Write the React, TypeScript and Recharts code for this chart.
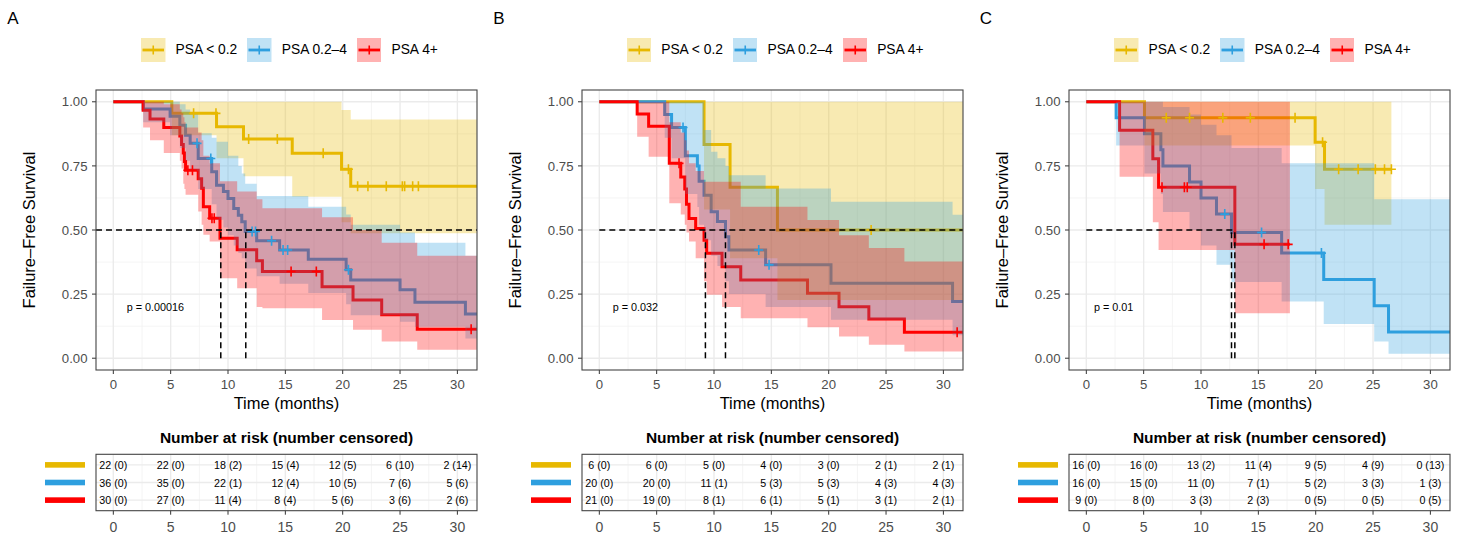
import React from 'react';
import { ComposedChart, Line, Area, Scatter, XAxis, YAxis, ReferenceLine, ReferenceDot } from 'recharts';

const COLORS = ['#E7B800', '#2E9FDF', '#FF0000'];
const STRATA = ['PSA < 0.2', 'PSA 0.2–4', 'PSA 4+'];
const X_TICKS = [0, 5, 10, 15, 20, 25, 30];
const X_MINOR = [2.5, 7.5, 12.5, 17.5, 22.5, 27.5];
const Y_TICKS = [0, 0.25, 0.5, 0.75, 1];
const Y_MINOR = [0.125, 0.375, 0.625, 0.875];
const RISK_TIMES = [0, 5, 10, 15, 20, 25, 30];
const RISK_ROWS = [1, 2, 3];
const X_DOMAIN: [number, number] = [-1.51, 31.71];
const Y_DOMAIN: [number, number] = [-0.046, 1.046];

// ---------- Panel A ----------
const A_LOW_TIME = [0, 5.1, 9.0, 11.35, 15.6, 19.9, 20.7, 31.7];
const A_LOW_SURV = [1, 0.955, 0.903, 0.855, 0.799, 0.737, 0.671, 0.671];
const A_LOW_LOWER = [1, 0.87, 0.78, 0.71, 0.63, 0.53, 0.487, 0.487];
const A_LOW_UPPER = [1, 1, 1, 1, 1, 0.968, 0.931, 0.931];
const A_LOW_CENSOR = [7.0, 8.95, 11.8, 14.3, 18.3, 20.5, 21.3, 22.2, 23.8, 25.2, 25.4, 26.1, 26.6];

const A_MID_TIME = [0, 2.6, 4.95, 5.8, 6.3, 6.7, 7.4, 8.58, 9.0, 9.6, 10.0, 10.5, 10.9, 11.2, 11.5, 12.5, 14.5, 17.0, 20.3, 20.7, 25.0, 26.3, 30.7, 31.7];
const A_MID_SURV = [1, 0.972, 0.944, 0.909, 0.87, 0.838, 0.779, 0.727, 0.675, 0.65, 0.623, 0.584, 0.558, 0.532, 0.494, 0.458, 0.422, 0.386, 0.345, 0.305, 0.267, 0.218, 0.172, 0.172];
const A_MID_LOWER = [1, 0.92, 0.87, 0.82, 0.77, 0.73, 0.66, 0.6, 0.54, 0.51, 0.48, 0.44, 0.41, 0.39, 0.35, 0.32, 0.29, 0.254, 0.21, 0.168, 0.142, 0.123, 0.077, 0.077];
const A_MID_UPPER = [1, 1, 1, 0.99, 0.97, 0.95, 0.877, 0.86, 0.844, 0.844, 0.79, 0.79, 0.75, 0.72, 0.68, 0.633, 0.633, 0.591, 0.56, 0.52, 0.49, 0.45, 0.4, 0.4];
const A_MID_CENSOR = [7.3, 8.5, 12.1, 12.4, 13.8, 14.8, 15.2, 20.5];

const A_HIGH_TIME = [0, 2.6, 3.2, 4.4, 5.8, 5.95, 6.1, 6.2, 6.3, 7.4, 7.7, 7.85, 8.4, 9.3, 10.8, 12.5, 13.0, 18.2, 20.9, 23.4, 26.5, 31.7];
const A_HIGH_SURV = [1, 0.967, 0.933, 0.9, 0.867, 0.833, 0.8, 0.767, 0.733, 0.7, 0.663, 0.591, 0.546, 0.468, 0.423, 0.38, 0.338, 0.279, 0.227, 0.169, 0.113, 0.113];
const A_HIGH_LOWER = [1, 0.9, 0.85, 0.8, 0.77, 0.74, 0.68, 0.66, 0.637, 0.572, 0.52, 0.481, 0.455, 0.312, 0.273, 0.2, 0.195, 0.149, 0.111, 0.065, 0.033, 0.033];
const A_HIGH_UPPER = [1, 1, 1, 0.99, 0.97, 0.955, 0.94, 0.92, 0.9, 0.88, 0.85, 0.79, 0.76, 0.69, 0.65, 0.62, 0.585, 0.55, 0.5, 0.45, 0.4, 0.4];
const A_HIGH_CENSOR = [6.5, 6.9, 8.6, 8.8, 15.5, 17.7, 31.2];

const A_RISK_LOW = ['22 (0)', '22 (0)', '18 (2)', '15 (4)', '12 (5)', '6 (10)', '2 (14)'];
const A_RISK_MID = ['36 (0)', '35 (0)', '22 (1)', '12 (4)', '10 (5)', '7 (6)', '5 (6)'];
const A_RISK_HIGH = ['30 (0)', '27 (0)', '11 (4)', '8 (4)', '5 (6)', '3 (6)', '2 (6)'];
const A_MEDIANS = [9.37, 11.55];
const A_MEDIAN_H = [-1.51, 31.71];

// ---------- Panel B ----------
const B_LOW_TIME = [0, 9.13, 11.4, 15.53, 31.7];
const B_LOW_SURV = [1, 0.833, 0.667, 0.5, 0.5];
const B_LOW_LOWER = [1, 0.58, 0.39, 0.227, 0.227];
const B_LOW_UPPER = [1, 1, 1, 1, 1];
const B_LOW_CENSOR = [23.7];

const B_MID_TIME = [0, 5.7, 6.3, 7.5, 8.55, 8.7, 9.13, 9.75, 10.3, 11.0, 11.3, 14.5, 20.2, 30.8, 31.7];
const B_MID_SURV = [1, 0.95, 0.9, 0.79, 0.75, 0.69, 0.636, 0.571, 0.533, 0.474, 0.422, 0.364, 0.292, 0.221, 0.221];
const B_MID_LOWER = [1, 0.86, 0.78, 0.64, 0.59, 0.52, 0.46, 0.4, 0.36, 0.3, 0.25, 0.2, 0.15, 0.09, 0.09];
const B_MID_UPPER = [1, 1, 1, 1, 1, 1, 0.89, 0.805, 0.78, 0.75, 0.714, 0.662, 0.61, 0.559, 0.559];
const B_MID_CENSOR = [7.3, 13.9, 14.8];

const B_HIGH_TIME = [0, 3.3, 4.3, 6.1, 7.1, 7.45, 7.6, 7.82, 8.4, 9.13, 9.36, 10.7, 12.33, 18.15, 20.9, 23.5, 26.6, 31.7];
const B_HIGH_SURV = [1, 0.952, 0.905, 0.76, 0.707, 0.66, 0.6, 0.545, 0.506, 0.46, 0.409, 0.357, 0.305, 0.253, 0.201, 0.153, 0.101, 0.101];
const B_HIGH_LOWER = [1, 0.864, 0.786, 0.604, 0.56, 0.52, 0.49, 0.455, 0.39, 0.3, 0.247, 0.2, 0.156, 0.121, 0.085, 0.052, 0.026, 0.026];
const B_HIGH_UPPER = [1, 1, 1, 0.92, 0.88, 0.85, 0.81, 0.76, 0.73, 0.688, 0.688, 0.688, 0.591, 0.539, 0.48, 0.43, 0.377, 0.377];
const B_HIGH_CENSOR = [6.95, 31.2];

const B_RISK_LOW = ['6 (0)', '6 (0)', '5 (0)', '4 (0)', '3 (0)', '2 (1)', '2 (1)'];
const B_RISK_MID = ['20 (0)', '20 (0)', '11 (1)', '5 (3)', '5 (3)', '4 (3)', '4 (3)'];
const B_RISK_HIGH = ['21 (0)', '19 (0)', '8 (1)', '6 (1)', '5 (1)', '3 (1)', '2 (1)'];
const B_MEDIANS = [9.25, 11.0];
const B_MEDIAN_H = [0, 31.71];

// ---------- Panel C ----------
const C_LOW_TIME = [0, 5.07, 19.95, 20.77, 26.6];
const C_LOW_SURV = [1, 0.9375, 0.842, 0.737, 0.737];
const C_LOW_LOWER = [1, 0.83, 0.66, 0.52, 0.52];
const C_LOW_UPPER = [1, 1, 1, 1, 1];
const C_LOW_CENSOR = [6.97, 9.0, 11.9, 14.3, 18.2, 20.6, 22.0, 23.7, 25.2, 26.0, 26.6];

const C_MID_TIME = [0, 2.6, 5.07, 6.5, 6.68, 9.0, 10.0, 11.35, 12.66, 17.03, 20.7, 25.1, 26.35, 31.75];
const C_MID_SURV = [1, 0.9375, 0.875, 0.8125, 0.75, 0.6875, 0.625, 0.562, 0.49, 0.41, 0.307, 0.205, 0.102, 0.102];
const C_MID_LOWER = [1, 0.83, 0.72, 0.64, 0.57, 0.5, 0.44, 0.364, 0.297, 0.221, 0.133, 0.065, 0.017, 0.017];
const C_MID_UPPER = [1, 1, 1, 1, 0.98, 0.95, 0.91, 0.87, 0.82, 0.76, 0.76, 0.62, 0.62, 0.62];
const C_MID_CENSOR = [12.07, 15.28, 20.5];

const C_HIGH_TIME = [0, 2.9, 5.8, 6.3, 12.95, 17.75];
const C_HIGH_SURV = [1, 0.889, 0.778, 0.667, 0.444, 0.444];
const C_HIGH_LOWER = [1, 0.708, 0.53, 0.422, 0.175, 0.175];
const C_HIGH_UPPER = [1, 1, 1, 1, 1, 1];
const C_HIGH_CENSOR = [6.6, 8.55, 8.8, 15.5, 17.6];

const C_RISK_LOW = ['16 (0)', '16 (0)', '13 (2)', '11 (4)', '9 (5)', '4 (9)', '0 (13)'];
const C_RISK_MID = ['16 (0)', '15 (0)', '11 (0)', '7 (1)', '5 (2)', '3 (3)', '1 (3)'];
const C_RISK_HIGH = ['9 (0)', '8 (0)', '3 (3)', '2 (3)', '0 (5)', '0 (5)', '0 (5)'];
const C_MEDIANS = [12.66, 12.95];
const C_MEDIAN_H = [0, 12.95];

type Series = { time: number[]; surv: number[]; lower: number[]; upper: number[]; censor: number[] };

const mk = (time: number[], surv: number[], lower: number[], upper: number[], censor: number[]): Series => ({ time, surv, lower, upper, censor });

const toSteps = (s: Series) => s.time.map((t, i) => ({ t, s: s.surv[i], band: [s.lower[i], s.upper[i]] }));
const survAt = (s: Series, t: number) => {
  let v = s.surv[0];
  for (let i = 0; i < s.time.length; i++) if (s.time[i] <= t) v = s.surv[i];
  return v;
};
const censorPts = (s: Series) => s.censor.map((t) => ({ t, s: survAt(s, t) }));

const makeCross = (color: string) => (props: any) => {
  const { cx, cy } = props;
  if (cx == null || cy == null) return <g />;
  return (
    <path d={`M${cx - 4.5},${cy}H${cx + 4.5}M${cx},${cy - 5}V${cy + 5}`} stroke={color} strokeWidth={1.6} fill="none" />
  );
};

const riskText = (props: any) => {
  const { cx, cy, payload } = props;
  if (cx == null || cy == null) return <g />;
  return (
    <text x={cx} y={cy} textAnchor="middle" dominantBaseline="central" fontSize={10.7} fill="#000">
      {payload.label}
    </text>
  );
};

const riskTick = (props: any) => {
  const { y, payload } = props;
  return <rect x={45} y={y - 2.8} width={40} height={5.6} fill={COLORS[3 - payload.value]} />;
};

const FONT = "'Liberation Sans', Arial, Helvetica, sans-serif";

type PanelProps = {
  left: number;
  letter: string;
  series: Series[];
  medians: number[];
  medianH: number[];
  pText: string;
  pX: number;
  risk: string[][];
};

function Panel({ left, letter, series, medians, medianH, pText, pX, risk }: PanelProps) {
  const riskData = risk.map((row, i) => row.map((label, j) => ({ t: RISK_TIMES[j], row: 3 - i, label })));
  return (
    <div style={{ position: 'absolute', left, top: 0, width: 486, height: 535 }}>
      <div style={{ position: 'absolute', left: 0, top: 0 }}>
        <ComposedChart width={486} height={420} margin={{ top: 90, right: 9, bottom: 0, left: 0 }}>
          <XAxis
            type="number"
            dataKey="t"
            domain={X_DOMAIN}
            allowDataOverflow
            ticks={X_TICKS}
            interval={0}
            height={50}
            axisLine={false}
            tickSize={4}
            tickMargin={6}
            tickLine={{ stroke: '#333', strokeWidth: 1 }}
            tick={{ fontSize: 13.2, fill: '#4D4D4D' }}
          />
          <YAxis
            type="number"
            dataKey="s"
            domain={Y_DOMAIN}
            allowDataOverflow
            ticks={Y_TICKS}
            interval={0}
            width={96}
            axisLine={false}
            tickSize={4}
            tickMargin={4.5}
            tickLine={{ stroke: '#333', strokeWidth: 1 }}
            tick={{ fontSize: 13.2, fill: '#4D4D4D' }}
            tickFormatter={(v: number) => v.toFixed(2)}
          />
          {X_MINOR.map((v) => (
            <ReferenceLine key={'xm' + v} x={v} stroke="#F1F1F1" strokeWidth={0.8} ifOverflow="hidden" zIndex={-100} />
          ))}
          {Y_MINOR.map((v) => (
            <ReferenceLine key={'ym' + v} y={v} stroke="#F1F1F1" strokeWidth={0.8} ifOverflow="hidden" zIndex={-100} />
          ))}
          {X_TICKS.map((v) => (
            <ReferenceLine key={'xM' + v} x={v} stroke="#EBEBEB" strokeWidth={1.4} ifOverflow="hidden" zIndex={-100} />
          ))}
          {Y_TICKS.map((v) => (
            <ReferenceLine key={'yM' + v} y={v} stroke="#EBEBEB" strokeWidth={1.4} ifOverflow="hidden" zIndex={-100} />
          ))}
          {series.map((s, i) => (
            <Line
              key={'l' + i}
              data={toSteps(s)}
              dataKey="s"
              type="stepAfter"
              stroke={COLORS[i]}
              strokeWidth={3}
              dot={false}
              activeDot={false}
              isAnimationActive={false}
              zIndex={100}
            />
          ))}
          {series.map((s, i) => (
            <Area
              key={'a' + i}
              data={toSteps(s)}
              dataKey="band"
              type="stepAfter"
              stroke="none"
              fill={COLORS[i]}
              fillOpacity={0.3}
              activeDot={false}
              isAnimationActive={false}
              zIndex={200}
            />
          ))}
          {series.map((s, i) => (
            <Scatter key={'c' + i} data={censorPts(s)} shape={makeCross(COLORS[i])} isAnimationActive={false} zIndex={600} />
          ))}
          <ReferenceLine
            segment={[{ x: medianH[0], y: 0.5 }, { x: medianH[1], y: 0.5 }]}
            stroke="#000"
            strokeWidth={1.5}
            strokeDasharray="6 4"
            ifOverflow="hidden"
            zIndex={700}
          />
          {medians.map((m) => (
            <ReferenceLine
              key={'md' + m}
              segment={[{ x: m, y: 0 }, { x: m, y: 0.5 }]}
              stroke="#000"
              strokeWidth={1.5}
              strokeDasharray="6 4"
              ifOverflow="hidden"
              zIndex={700}
            />
          ))}
          <ReferenceDot
            x={pX}
            y={0.2}
            r={1}
            fill="transparent"
            stroke="none"
            zIndex={700}
            label={{ value: pText, position: 'right', offset: -1, fontSize: 10.8, fill: '#000' }}
          />
        </ComposedChart>
      </div>
      <div style={{ position: 'absolute', left: 0, top: 420 }}>
        <ComposedChart width={486} height={115} margin={{ top: 34.3, right: 9, bottom: 0, left: 0 }}>
          <XAxis
            type="number"
            dataKey="t"
            domain={X_DOMAIN}
            allowDataOverflow
            ticks={X_TICKS}
            interval={0}
            height={24.3}
            axisLine={false}
            tickSize={4}
            tickMargin={7}
            tickLine={{ stroke: '#333', strokeWidth: 1 }}
            tick={{ fontSize: 14, fill: '#4D4D4D' }}
          />
          <YAxis
            type="number"
            dataKey="row"
            domain={[0.4, 3.6]}
            ticks={RISK_ROWS}
            interval={0}
            width={96}
            axisLine={false}
            tickLine={false}
            tick={riskTick}
          />
          {X_MINOR.map((v) => (
            <ReferenceLine key={'txm' + v} x={v} stroke="#F1F1F1" strokeWidth={0.8} ifOverflow="hidden" zIndex={-100} />
          ))}
          {X_TICKS.map((v) => (
            <ReferenceLine key={'txM' + v} x={v} stroke="#EBEBEB" strokeWidth={1.4} ifOverflow="hidden" zIndex={-100} />
          ))}
          {RISK_ROWS.map((v) => (
            <ReferenceLine key={'tyM' + v} y={v} stroke="#EBEBEB" strokeWidth={1.4} ifOverflow="hidden" zIndex={-100} />
          ))}
          {riskData.map((rows, i) => (
            <Scatter key={'r' + i} data={rows} shape={riskText} isAnimationActive={false} zIndex={600} />
          ))}
        </ComposedChart>
      </div>
      <svg
        width={486}
        height={535}
        style={{ position: 'absolute', left: 0, top: 0, pointerEvents: 'none', fontFamily: FONT }}
      >
        <rect x={96} y={90} width={381} height={280} fill="none" stroke="#444" strokeWidth={1.1} />
        <rect x={96} y={454.3} width={381} height={56.4} fill="none" stroke="#444" strokeWidth={1.1} />
        <text x={13} y={24} textAnchor="middle" fontSize={17} fill="#000">
          {letter}
        </text>
        <text transform="translate(35,230) rotate(-90)" textAnchor="middle" fontSize={16.5} fill="#000">
          Failure–Free Survival
        </text>
        <text x={286.5} y={409} textAnchor="middle" fontSize={16.5} fill="#000">
          Time (months)
        </text>
        <text x={286.5} y={442.5} textAnchor="middle" fontSize={15.5} fontWeight="bold" fill="#000">
          Number at risk (number censored)
        </text>
      </svg>
      <div style={{ position: 'absolute', left: 141, top: 38, height: 24, display: 'flex', alignItems: 'center' }}>
        {STRATA.map((name, i) => (
          <div key={name} style={{ display: 'flex', alignItems: 'center', marginRight: 10 }}>
            <svg width={24.5} height={24} style={{ display: 'block' }}>
              <rect x={0} y={0} width={24.5} height={24} fill={COLORS[i]} fillOpacity={0.3} />
              <line x1={1.5} x2={23} y1={12} y2={12} stroke={COLORS[i]} strokeWidth={2.8} />
              <line x1={12.25} x2={12.25} y1={7.5} y2={16.5} stroke={COLORS[i]} strokeWidth={1.6} />
            </svg>
            <span style={{ marginLeft: 10, fontSize: 13.8, lineHeight: '24px', whiteSpace: 'nowrap', color: '#000' }}>
              {name}
            </span>
          </div>
        ))}
      </div>
    </div>
  );
}

export default function App() {
  const panelA = [
    mk(A_LOW_TIME, A_LOW_SURV, A_LOW_LOWER, A_LOW_UPPER, A_LOW_CENSOR),
    mk(A_MID_TIME, A_MID_SURV, A_MID_LOWER, A_MID_UPPER, A_MID_CENSOR),
    mk(A_HIGH_TIME, A_HIGH_SURV, A_HIGH_LOWER, A_HIGH_UPPER, A_HIGH_CENSOR),
  ];
  const panelB = [
    mk(B_LOW_TIME, B_LOW_SURV, B_LOW_LOWER, B_LOW_UPPER, B_LOW_CENSOR),
    mk(B_MID_TIME, B_MID_SURV, B_MID_LOWER, B_MID_UPPER, B_MID_CENSOR),
    mk(B_HIGH_TIME, B_HIGH_SURV, B_HIGH_LOWER, B_HIGH_UPPER, B_HIGH_CENSOR),
  ];
  const panelC = [
    mk(C_LOW_TIME, C_LOW_SURV, C_LOW_LOWER, C_LOW_UPPER, C_LOW_CENSOR),
    mk(C_MID_TIME, C_MID_SURV, C_MID_LOWER, C_MID_UPPER, C_MID_CENSOR),
    mk(C_HIGH_TIME, C_HIGH_SURV, C_HIGH_LOWER, C_HIGH_UPPER, C_HIGH_CENSOR),
  ];
  return (
    <div
      style={{
        position: 'absolute',
        left: 0,
        top: 0,
        width: 1458,
        height: 535,
        background: '#fff',
        overflow: 'hidden',
        fontFamily: FONT,
      }}
    >
      <Panel
        left={0}
        letter="A"
        series={panelA}
        medians={A_MEDIANS}
        medianH={A_MEDIAN_H}
        pText="p = 0.00016"
        pX={1.17}
        risk={[A_RISK_LOW, A_RISK_MID, A_RISK_HIGH]}
      />
      <Panel
        left={485.7}
        letter="B"
        series={panelB}
        medians={B_MEDIANS}
        medianH={B_MEDIAN_H}
        pText="p = 0.032"
        pX={1.17}
        risk={[B_RISK_LOW, B_RISK_MID, B_RISK_HIGH]}
      />
      <Panel
        left={973}
        letter="C"
        series={panelC}
        medians={C_MEDIANS}
        medianH={C_MEDIAN_H}
        pText="p = 0.01"
        pX={0.67}
        risk={[C_RISK_LOW, C_RISK_MID, C_RISK_HIGH]}
      />
    </div>
  );
}
